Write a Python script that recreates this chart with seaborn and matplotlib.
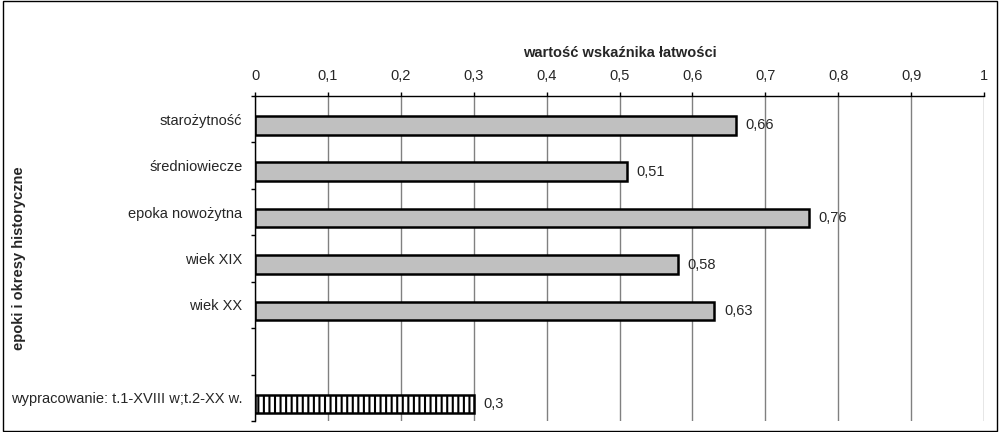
import numpy as np
import pandas as pd
import matplotlib
matplotlib.use("Agg")
import matplotlib.pyplot as plt
from matplotlib.patches import Rectangle
import seaborn as sns

# data
categories = ["starożytność", "średniowiecze", "epoka nowożytna", "wiek XIX", "wiek XX",
              "wypracowanie: t.1-XVIII w;t.2-XX w."]
values = [0.66, 0.51, 0.76, 0.58, 0.63, 0.3]
slot_order = categories[:5] + [" "] + categories[5:]   # blank slot before the essay bar
x_ticks = [0, 0.1, 0.2, 0.3, 0.4, 0.5, 0.6, 0.7, 0.8, 0.9, 1]
x_tick_labels = ["0", "0,1", "0,2", "0,3", "0,4", "0,5", "0,6", "0,7", "0,8", "0,9", "1"]

df = pd.DataFrame({"epoka": categories, "wartosc": values})
palette = {c: "#C0C0C0" for c in categories}
palette[categories[-1]] = "white"

sns.set_style("white")
plt.rcParams["font.family"] = ["Liberation Sans", "DejaVu Sans"]
plt.rcParams["hatch.linewidth"] = 1.5

fs = 10.5
fig = plt.figure(figsize=(10, 4.32), dpi=100)
ax_box = [0.255, 0.0255, 0.729, 0.7523]
ax = fig.add_axes(ax_box)

sns.barplot(data=df, y="epoka", x="wartosc", order=slot_order, hue="epoka",
            palette=palette, legend=False, width=0.4, orient="h",
            edgecolor="black", linewidth=1.8, ax=ax)

# hatch for the essay bar (the lowest one)
bars = [p for p in ax.patches if p.get_width() > 0]
last = max(bars, key=lambda p: p.get_y())
last.set_hatch("|||")

for cont in ax.containers:
    labels = [f"{b.get_width():g}".replace(".", ",") for b in cont]
    ax.bar_label(cont, labels=labels, padding=7, fontsize=fs)

# category slots: bars sit a bit below the slot centre, like in the source chart
n = len(slot_order)
off = 0.13
ax.set_ylim(n - 0.5 - off, -0.5 - off)
ax.set_yticks(np.arange(n) - off)
ax.set_yticklabels(slot_order, fontsize=fs)
ax.set_yticks(np.arange(n + 1) - 0.5 - off, minor=True)
ax.tick_params(axis="y", which="major", length=0, pad=9)
ax.tick_params(axis="y", which="minor", length=3, width=1, color="black", direction="out", left=True)

ax.set_xlim(0, 1)
ax.xaxis.tick_top()
ax.xaxis.set_label_position("top")
ax.set_xticks(x_ticks)
ax.set_xticklabels(x_tick_labels, fontsize=fs)
ax.tick_params(axis="x", length=3, width=1, color="black", direction="out", pad=6, top=True)
ax.grid(axis="x", color="#808080", linewidth=1)
ax.set_axisbelow(True)

ax.set_xlabel("wartość wskaźnika łatwości", fontsize=fs, fontweight="bold", labelpad=9)
ax.set_ylabel("")
fig.text(0.019, ax_box[1] + ax_box[3] / 2, "epoki i okresy historyczne", rotation=90,
         fontsize=fs, fontweight="bold", ha="center", va="center")

for side in ["right", "bottom"]:
    ax.spines[side].set_visible(False)
for side in ["top", "left"]:
    ax.spines[side].set_color("black")
    ax.spines[side].set_linewidth(1)

# outer chart frame
fig.patches.append(Rectangle((0.003, 0.003), 0.994, 0.994, transform=fig.transFigure,
                             fill=False, edgecolor="black", linewidth=1))

fig.savefig("out.png", dpi=100)
